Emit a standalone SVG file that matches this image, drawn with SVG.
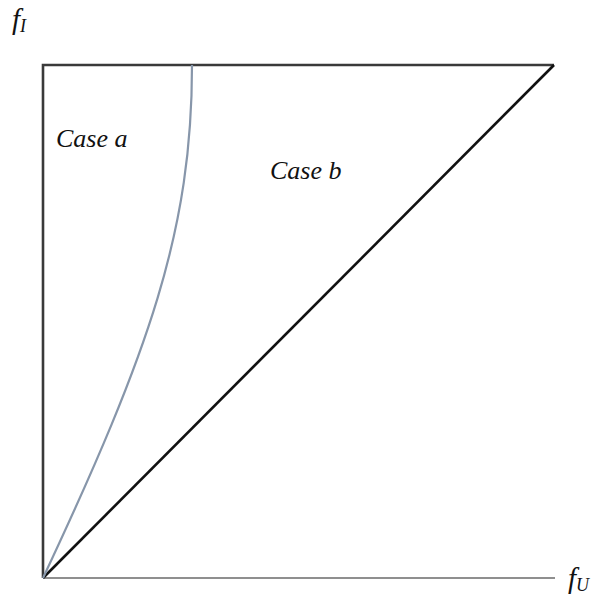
<svg xmlns="http://www.w3.org/2000/svg" width="597" height="596" viewBox="0 0 597 596">
<style>
.lbl{font-family:"Liberation Serif","Times New Roman",serif;font-style:italic;fill:#111}
.frame{stroke:#3a3a3a;stroke-width:2.6;fill:none}
</style>
<rect width="597" height="596" fill="#fff"/>
<g id="connectors">
<line id="axis-x" x1="43" y1="578" x2="555" y2="578" stroke="#6a6a6a" stroke-width="1.5"/>
<polyline class="frame" points="43,578 43,65 554,65"/>
<line id="diagonal" x1="43" y1="578" x2="554" y2="65" stroke="#111" stroke-width="2.6"/>
<path id="curve" d="M43,578 C150,350 192,230 192,65" fill="none" stroke="#8796aa" stroke-width="2.2"/>
</g>
<g id="label-fI"><text class="lbl" x="12" y="29" font-size="29">f<tspan font-size="18" dy="3">I</tspan></text></g>
<g id="label-fU"><text class="lbl" x="568" y="588" font-size="29">f<tspan font-size="18" dy="3">U</tspan></text></g>
<g id="case-a"><text class="lbl" x="56" y="147" font-size="26">Case a</text></g>
<g id="case-b"><text class="lbl" x="270" y="179" font-size="26">Case b</text></g>
</svg>
